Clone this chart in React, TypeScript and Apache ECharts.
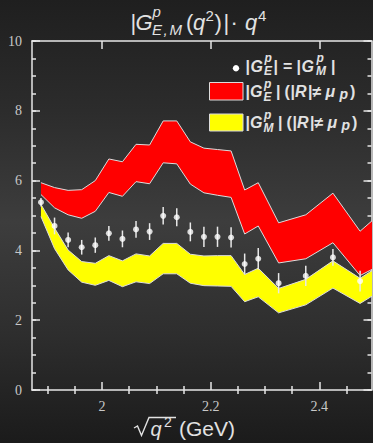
import { useEffect, useRef } from "react";
import * as echarts from "echarts";

// sqrt(q^2) range of the frame (GeV)
const X_MIN = 1.871;
const X_MAX = 2.496;

// |G_E^p| = |G_M^p| measurements: energy, value, uncertainty
const pointX = [1.8875, 1.9125, 1.9375, 1.9625, 1.9875, 2.0125, 2.0375, 2.0625, 2.0875, 2.1125, 2.1375, 2.1625, 2.1875, 2.2125, 2.2375, 2.2625, 2.2875, 2.325, 2.375, 2.425, 2.475];
const pointY = [5.38, 4.7, 4.3, 4.09, 4.15, 4.49, 4.33, 4.6, 4.54, 4.99, 4.95, 4.53, 4.39, 4.39, 4.37, 3.61, 3.76, 3.06, 3.27, 3.8, 3.12];
const pointErr = [0.12, 0.24, 0.21, 0.21, 0.22, 0.21, 0.24, 0.24, 0.24, 0.25, 0.26, 0.27, 0.29, 0.29, 0.29, 0.3, 0.31, 0.29, 0.29, 0.24, 0.3];

// bands for |R| != mu_p: energies and lower / upper edges
const bandX = [1.8875, 1.9125, 1.9375, 1.9625, 1.9875, 2.0125, 2.0375, 2.0625, 2.0875, 2.1125, 2.1375, 2.1625, 2.1875, 2.2125, 2.2375, 2.2625, 2.2875, 2.325, 2.375, 2.425, 2.475, 2.5];
const geLow = [5.6, 5.22, 5.02, 4.92, 5.12, 5.66, 5.55, 5.97, 5.91, 6.51, 6.48, 5.9, 5.65, 5.58, 5.52, 4.47, 4.7, 3.64, 3.76, 4.22, 3.28, 3.48];
const geHigh = [5.94, 5.8, 5.72, 5.74, 6.0, 6.62, 6.54, 7.04, 7.02, 7.71, 7.71, 7.11, 6.93, 6.89, 6.85, 5.73, 5.94, 4.79, 5.02, 5.64, 4.55, 4.89];
const gmLow = [4.97, 4.05, 3.44, 3.09, 3.0, 3.14, 2.96, 3.1, 3.05, 3.33, 3.33, 3.06, 2.99, 2.98, 2.97, 2.53, 2.67, 2.21, 2.44, 2.92, 2.48, 2.72];
const gmHigh = [5.32, 4.64, 4.01, 3.68, 3.63, 3.85, 3.7, 3.9, 3.84, 4.2, 4.2, 3.89, 3.84, 3.85, 3.85, 3.31, 3.49, 2.91, 3.17, 3.7, 3.2, 3.45];

// tick positions
const xMajor = [2.0, 2.2, 2.4];
const xMinor = [1.9, 1.95, 2.05, 2.1, 2.15, 2.25, 2.3, 2.35, 2.45];

const SANS = '"Liberation Sans", Arial, Helvetica, sans-serif';
const SERIF = '"Liberation Serif", "Times New Roman", serif';
const FRAME = "#e6e6e6";
const TEXT = "#e2e2e2";
const EDGE = "#dcdcdc";

type TOpt = { italic?: boolean; bold?: boolean; color?: string };

// text placed by its baseline
function txt(t: string, x: number, base: number, size: number, o: TOpt = {}) {
  return {
    type: "text",
    silent: true,
    style: {
      text: t,
      x,
      y: base - 0.3465 * size,
      fill: o.color ?? TEXT,
      fontFamily: SANS,
      fontSize: size,
      fontStyle: o.italic ? "italic" : "normal",
      fontWeight: o.bold ? "bold" : "normal",
      align: "left",
      verticalAlign: "middle",
    },
  };
}

function bandSeries(lo: number[], hi: number[], fill: string) {
  return {
    type: "custom",
    clip: true,
    xAxisIndex: 0,
    yAxisIndex: 0,
    encode: { x: 0, y: 1 },
    data: [[bandX[0], lo[0]]],
    renderItem: (params: any, api: any) => {
      const upper = bandX.map((x, i) => api.coord([x, hi[i]]));
      const lower = bandX.map((x, i) => api.coord([x, lo[i]]));
      return {
        type: "group",
        children: [
          { type: "polygon", shape: { points: upper.concat(lower.slice().reverse()) }, style: { fill, stroke: "none" } },
          { type: "polyline", shape: { points: upper }, style: { stroke: EDGE, lineWidth: 1, fill: "none" } },
          { type: "polyline", shape: { points: lower }, style: { stroke: EDGE, lineWidth: 1, fill: "none" } },
        ],
      };
    },
  };
}

const B = { bold: true };
const I = { bold: true, italic: true };

// |G^p_X| with stacked super- and subscript
function legendHead(base: number, sub: string) {
  return [
    txt("|", 245.5, base, 16, B),
    txt("G", 250, base, 16, I),
    txt("p", 264, base - 8.5, 12, I),
    txt(sub, 263.5, base + 4.5, 12, I),
    txt("|", sub === "M" ? 278 : 276, base, 16, B),
  ];
}

// (|R| != mu_p)
function legendTail(base: number, dx: number) {
  return [
    txt("(", 284.5 + dx, base, 16, B),
    txt("|", 290.5 + dx, base, 16, B),
    txt("R", 295 + dx, base, 16, I),
    txt("|", 308 + dx, base, 16, B),
    txt("≠", 312.5 + dx, base, 16, B),
    txt("μ", 325.5 + dx, base, 16, I),
    txt("p", 339.5 + dx, base + 2, 14, I),
    txt(")", 350 + dx, base, 16, B),
  ];
}

export default function App() {
  const ref = useRef<HTMLDivElement>(null);

  useEffect(() => {
    if (!ref.current) return;
    const chart = echarts.init(ref.current, null, { renderer: "svg" });

    const lineStyle = { color: FRAME, width: 1.5 };
    const xBase = { type: "value", min: X_MIN, max: X_MAX, splitLine: { show: false }, gridIndex: 0 };
    const yBase = { type: "value", min: 0, max: 10, splitLine: { show: false }, gridIndex: 0 };

    const option: any = {
      animation: false,
      backgroundColor: "transparent",
      grid: { left: 32, top: 41, right: 1.5, bottom: 53, containLabel: false },
      xAxis: [
        {
          ...xBase,
          position: "bottom",
          axisLine: { show: true, onZero: false, lineStyle },
          axisTick: { show: true, inside: true, length: 8, customValues: xMajor, lineStyle },
          axisLabel: {
            show: true,
            customValues: xMajor,
            formatter: (v: number) => String(Math.round(v * 10) / 10),
            margin: 9,
            fontFamily: SERIF,
            fontSize: 14,
            color: "#c8c8c8",
          },
        },
        {
          ...xBase,
          position: "bottom",
          axisLine: { show: false },
          axisTick: { show: true, inside: true, length: 4, customValues: xMinor, lineStyle },
          axisLabel: { show: false },
        },
        {
          ...xBase,
          position: "top",
          axisLine: { show: true, onZero: false, lineStyle },
          axisTick: { show: true, inside: true, length: 8, customValues: xMajor, lineStyle },
          axisLabel: { show: false },
        },
        {
          ...xBase,
          position: "top",
          axisLine: { show: false },
          axisTick: { show: true, inside: true, length: 4, customValues: xMinor, lineStyle },
          axisLabel: { show: false },
        },
      ],
      yAxis: [
        {
          ...yBase,
          interval: 2,
          position: "left",
          axisLine: { show: true, onZero: false, lineStyle },
          axisTick: { show: true, inside: true, length: 8, lineStyle },
          axisLabel: { show: true, margin: 10, fontFamily: SERIF, fontSize: 14, color: "#c8c8c8" },
        },
        {
          ...yBase,
          interval: 0.5,
          position: "left",
          axisLine: { show: false },
          axisTick: { show: true, inside: true, length: 4, lineStyle },
          axisLabel: { show: false },
        },
        {
          ...yBase,
          interval: 2,
          position: "right",
          axisLine: { show: true, onZero: false, lineStyle },
          axisTick: { show: true, inside: true, length: 8, lineStyle },
          axisLabel: { show: false },
        },
        {
          ...yBase,
          interval: 0.5,
          position: "right",
          axisLine: { show: false },
          axisTick: { show: true, inside: true, length: 4, lineStyle },
          axisLabel: { show: false },
        },
      ],
      series: [
        bandSeries(gmLow, gmHigh, "#ffff00"),
        bandSeries(geLow, geHigh, "#ff0000"),
        {
          type: "custom",
          xAxisIndex: 0,
          yAxisIndex: 0,
          encode: { x: 0, y: 1 },
          data: pointX.map((x, i) => [x, pointY[i], pointErr[i]]),
          renderItem: (params: any, api: any) => {
            const x = api.value(0);
            const y = api.value(1);
            const e = api.value(2);
            const a = api.coord([x, y - e]);
            const b = api.coord([x, y + e]);
            return {
              type: "line",
              shape: { x1: a[0], y1: a[1], x2: b[0], y2: b[1] },
              style: { stroke: "#e8e8e8", lineWidth: 1.5 },
            };
          },
        },
        {
          type: "scatter",
          xAxisIndex: 0,
          yAxisIndex: 0,
          symbol: "circle",
          symbolSize: 6,
          itemStyle: { color: "#ffffff" },
          data: pointX.map((x, i) => [x, pointY[i]]),
        },
      ],
      graphic: {
        elements: [
          // title |G^p_{E,M}(q^2)| . q^4
          txt("|", 130.5, 30, 22),
          txt("G", 135.5, 30, 22, { italic: true }),
          txt("p", 152.5, 17, 15, { italic: true }),
          txt("E", 152, 35, 15, { italic: true }),
          txt(",", 163.5, 35, 15, { italic: true }),
          txt("M", 169.5, 35, 15, { italic: true }),
          txt("(", 186, 30, 22),
          txt("q", 193, 30, 22, { italic: true }),
          txt("2", 205.5, 20.5, 15),
          txt(")", 214.5, 30, 22),
          txt("|", 223.5, 30, 22),
          txt("·", 230.5, 30, 22),
          txt("q", 245, 30, 22, { italic: true }),
          txt("4", 258, 20.5, 15),

          // x-axis title sqrt(q^2) (GeV)
          {
            type: "polyline",
            silent: true,
            shape: { points: [[134, 428], [137.5, 426], [141.5, 435.5], [149, 417.5], [176, 417.5]] },
            style: { stroke: TEXT, lineWidth: 1.4, fill: "none" },
          },
          txt("q", 150.5, 436, 20, { italic: true }),
          txt("2", 164, 427, 14),
          txt("(GeV)", 179, 436, 21),

          // legend
          { type: "circle", silent: true, shape: { cx: 236, cy: 68.3, r: 3.2 }, style: { fill: "#ffffff" } },
          txt("|", 245.5, 72.5, 16, B),
          txt("G", 250.5, 72.5, 16, I),
          txt("p", 264.5, 62.5, 12, I),
          txt("E", 264, 75.5, 12, I),
          txt("|", 273.5, 72.5, 16, B),
          txt("=", 283, 72.5, 16, B),
          txt("|", 296.5, 72.5, 16, B),
          txt("G", 301.5, 72.5, 16, I),
          txt("p", 316.5, 62.5, 12, I),
          txt("M", 316, 75.5, 12, I),
          txt("|", 331, 72.5, 16, B),

          {
            type: "rect",
            silent: true,
            shape: { x: 209.5, y: 82.5, width: 33.5, height: 17.5 },
            style: { fill: "#ff0000", stroke: EDGE, lineWidth: 1 },
          },
          ...legendHead(97, "E"),
          ...legendTail(97, 0),

          {
            type: "rect",
            silent: true,
            shape: { x: 209.5, y: 114, width: 33.5, height: 17 },
            style: { fill: "#ffff00", stroke: EDGE, lineWidth: 1 },
          },
          ...legendHead(128, "M"),
          ...legendTail(128, 2),
        ],
      },
    };

    chart.setOption(option);
    return () => chart.dispose();
  }, []);

  return (
    <div
      ref={ref}
      style={{
        position: "fixed",
        left: 0,
        top: 0,
        width: 373,
        height: 443,
        background: "linear-gradient(180deg, #1f1f1f 0%, #2c2c2c 25%, #3d3d3d 50%, #2e2e2e 75%, #1b1b1b 100%)",
      }}
    />
  );
}
